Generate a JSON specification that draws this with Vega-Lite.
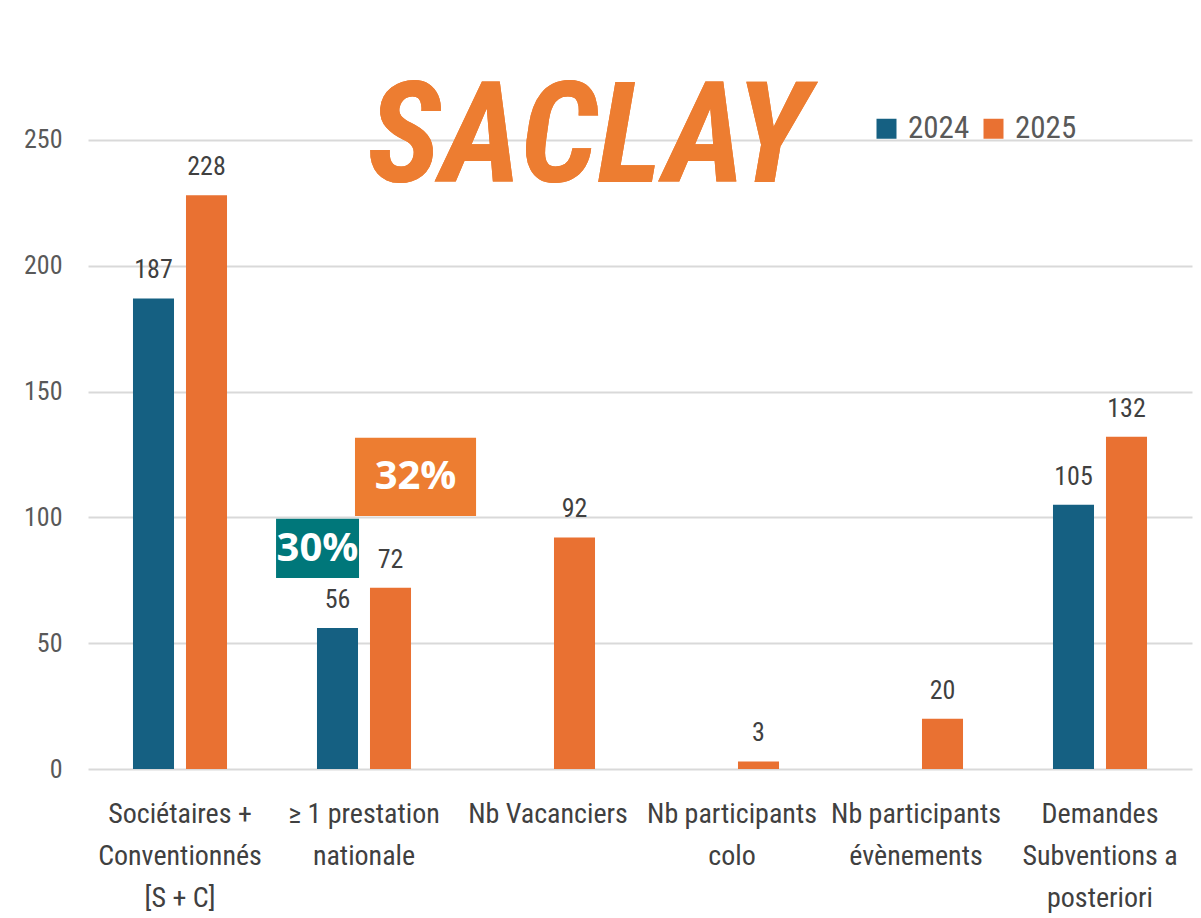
{
  "$schema": "https://vega.github.io/schema/vega-lite/v6.json",
  "autosize": "none",
  "padding": {"left": 88, "top": 14, "right": 9, "bottom": 149},
  "width": 1104,
  "height": 755,
  "background": "white",
  "config": {
    "view": {"stroke": null},
    "font": "Liberation Sans Narrow, Roboto Condensed, Liberation Sans, sans-serif"
  },
  "datasets": {
    "bars": [
      {"cat": "Sociétaires +|Conventionnés|[S + C]", "year": "2024", "value": 187},
      {"cat": "Sociétaires +|Conventionnés|[S + C]", "year": "2025", "value": 228},
      {"cat": "≥ 1 prestation|nationale", "year": "2024", "value": 56},
      {"cat": "≥ 1 prestation|nationale", "year": "2025", "value": 72},
      {"cat": "Nb  Vacanciers", "year": "2025", "value": 92},
      {"cat": "Nb  participants|colo", "year": "2025", "value": 3},
      {"cat": "Nb participants|évènements", "year": "2025", "value": 20},
      {"cat": "Demandes|Subventions a|posteriori", "year": "2024", "value": 105},
      {"cat": "Demandes|Subventions a|posteriori", "year": "2025", "value": 132}
    ],
    "boxes": [
      {"label": "32%", "x0": 1.451, "x1": 2.109, "y0": 100.5, "y1": 131.6, "xm": 1.78, "ym": 116},
      {"label": "30%", "x0": 1.022, "x1": 1.473, "y0": 75.9, "y1": 99.4, "xm": 1.247, "ym": 87.6}
    ]
  },
  "resolve": {"scale": {"x": "independent", "color": "independent"}},
  "layer": [
    {
      "data": {"name": "bars"},
      "encoding": {
        "x": {
          "field": "cat", "type": "nominal", "sort": null,
          "scale": {"paddingInner": 0.489, "paddingOuter": 0.2445},
          "axis": {
            "title": null, "domain": false, "ticks": false, "labelAngle": 0,
            "labelExpr": "split(datum.value, '|')",
            "labelFontSize": 28, "labelColor": "#404040", "labelLineHeight": 42,
            "labelPadding": 31, "labelBaseline": "top", "labelLimit": 300
          }
        },
        "xOffset": {"field": "year", "type": "nominal", "scale": {"paddingInner": 0.226, "paddingOuter": 0}},
        "y": {
          "field": "value", "type": "quantitative",
          "scale": {"domain": [0, 300]},
          "axis": {
            "title": null, "domain": false, "ticks": false,
            "values": [0, 50, 100, 150, 200, 250],
            "labelFontSize": 26, "labelColor": "#595959", "labelPadding": 26,
            "gridColor": "#d9d9d9", "gridWidth": 2
          }
        }
      },
      "layer": [
        {
          "mark": {"type": "bar"},
          "encoding": {
            "color": {
              "field": "year", "type": "nominal",
              "scale": {"domain": ["2024", "2025"], "range": ["#156082", "#E97132"]},
              "legend": {
                "title": null, "orient": "none", "legendX": 783, "legendY": 99,
                "direction": "horizontal", "symbolType": "square", "symbolSize": 400,
                "symbolStrokeWidth": 0, "labelFontSize": 31, "labelColor": "#595959",
                "labelOffset": 6, "columnPadding": 8, "padding": 0
              }
            }
          }
        },
        {
          "mark": {"type": "text", "baseline": "alphabetic", "dy": -20, "fontSize": 26, "color": "#404040"},
          "encoding": {"text": {"field": "value", "type": "quantitative"}}
        }
      ]
    },
    {
      "data": {"name": "boxes"},
      "layer": [
        {
          "mark": {"type": "rect"},
          "encoding": {
            "x": {"field": "x0", "type": "quantitative", "scale": {"domain": [0, 6]}, "axis": null},
            "x2": {"field": "x1"},
            "y": {"field": "y0", "type": "quantitative"},
            "y2": {"field": "y1"},
            "color": {
              "field": "label", "type": "nominal",
              "scale": {"domain": ["30%", "32%"], "range": ["#00777A", "#ED7D31"]},
              "legend": null
            }
          }
        },
        {
          "mark": {"type": "text", "font": "Open Sans", "fontWeight": "bold", "fontSize": 40, "color": "white", "baseline": "middle", "align": "center"},
          "encoding": {
            "x": {"field": "xm", "type": "quantitative", "scale": {"domain": [0, 6]}, "axis": null},
            "y": {"field": "ym", "type": "quantitative"},
            "text": {"field": "label"}
          }
        },
        {
          "mark": {"type": "text", "fontWeight": "bold", "fontStyle": "italic", "fontSize": 140, "color": "#ED7D31", "baseline": "middle", "align": "center"},
          "encoding": {
            "x": {"datum": 2.717, "type": "quantitative", "scale": {"domain": [0, 6]}, "axis": null},
            "y": {"datum": 250, "type": "quantitative"},
            "text": {"value": "SACLAY"}
          }
        }
      ]
    }
  ]
}
